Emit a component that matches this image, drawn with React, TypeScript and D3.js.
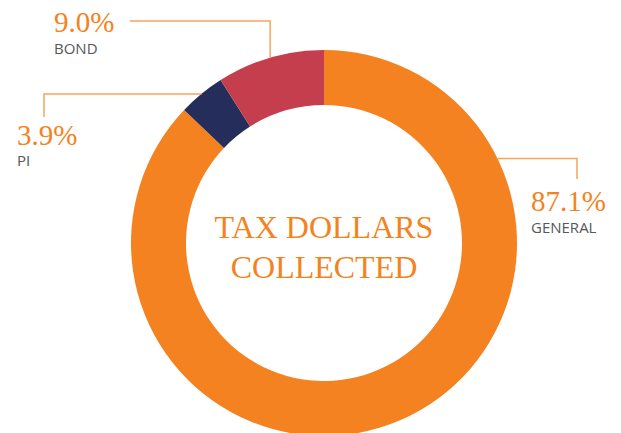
import * as d3 from 'd3';

// chart values
const categories = ['GENERAL', 'PI', 'BOND'];
const values = [87.1, 3.9, 9.0];
const percentLabels = ['87.1%', '3.9%', '9.0%'];
const colors = ['#F58220', '#252D5A', '#C43E4E'];

const width = 621;
const height = 433;
const cx = 324;
const cy = 243;
const outerR = 193;
const innerR = 138;
const leaderColor = '#F7A45E';

// where each callout sits (angle on ring in degrees, elbow and text)
const callouts = [
    { angle: 64, elbowX: 577, endY: 179, textX: 531, numY: 211, nameY: 233, dir: 'right' },
    { angle: null, elbowX: 44, endY: 117, textX: 17, numY: 145, nameY: 166, dir: 'left' },
    { angle: null, elbowY: 21, endX: 130, textX: 54, numY: 32, nameY: 54, dir: 'up' },
];

export default function App() {
    const pie = d3
        .pie<number>()
        .sort(null)
        .value((d) => d);
    const arcs = pie(values);
    const arc = d3
        .arc<d3.PieArcDatum<number>>()
        .innerRadius(innerR)
        .outerRadius(outerR);

    const ringPoint = (a: number) => [
        cx + outerR * Math.sin(a),
        cy - outerR * Math.cos(a),
    ];

    return (
        <svg
            width={width}
            height={height}
            style={{ position: 'absolute', left: 0, top: 0 }}
        >
            <rect width={width} height={height} fill='#fff' />
            <g transform={`translate(${cx},${cy})`}>
                {arcs.map((a, i) => (
                    <path key={categories[i]} d={arc(a) || ''} fill={colors[i]} />
                ))}
            </g>

            {arcs.map((a, i) => {
                const c = callouts[i];
                const ang =
                    c.angle != null
                        ? (c.angle * Math.PI) / 180
                        : (a.startAngle + a.endAngle) / 2;
                const [px, py] = ringPoint(ang);
                let pts: string;
                if (c.dir === 'up') {
                    pts = `${px},${py} ${px},${c.elbowY} ${c.endX},${c.elbowY}`;
                } else {
                    pts = `${px},${py} ${c.elbowX},${py} ${c.elbowX},${c.endY}`;
                }
                return (
                    <g key={`lbl-${categories[i]}`}>
                        <polyline
                            points={pts}
                            fill='none'
                            stroke={leaderColor}
                            strokeWidth={1.5}
                        />
                        <text
                            x={c.textX}
                            y={c.numY}
                            fill='#F58220'
                            style={{ fontFamily: 'Liberation Serif', fontSize: '29px' }}
                        >
                            {percentLabels[i]}
                        </text>
                        <text
                            x={c.textX}
                            y={c.nameY}
                            fill='#55575A'
                            style={{ fontFamily: 'Open Sans', fontSize: '15px' }}
                        >
                            {categories[i]}
                        </text>
                    </g>
                );
            })}

            <text
                x={cx}
                y={238}
                textAnchor='middle'
                fill='#F58220'
                style={{ fontFamily: 'Liberation Serif', fontSize: '32px' }}
            >
                TAX DOLLARS
            </text>
            <text
                x={cx}
                y={278}
                textAnchor='middle'
                fill='#F58220'
                style={{ fontFamily: 'Liberation Serif', fontSize: '32px' }}
            >
                COLLECTED
            </text>
        </svg>
    );
}
